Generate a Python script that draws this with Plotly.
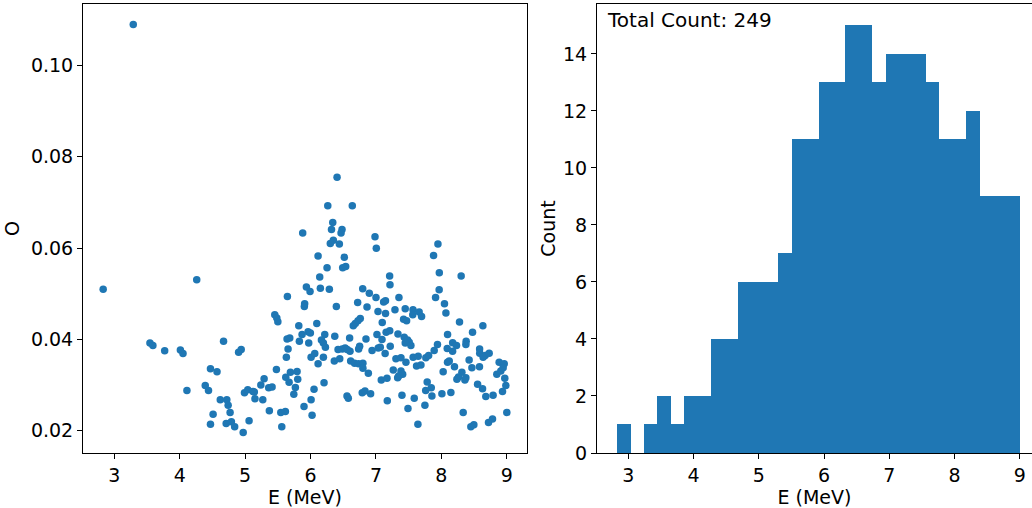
import numpy as np
import plotly.graph_objects as go
from plotly.subplots import make_subplots

# Event energies (MeV) and the matching O values, one entry per event
energy_mev = [
    2.83, 3.29, 3.545, 3.59, 3.77, 4.01, 4.05, 4.11, 4.26, 4.39, 4.44, 4.47, 4.47,
    4.51, 4.57, 4.62, 4.67, 4.71, 4.72, 4.74, 4.77, 4.79, 4.84, 4.90, 4.94, 4.97,
    4.99, 5.04, 5.06, 5.12, 5.14, 5.15, 5.24, 5.27, 5.29, 5.36, 5.37,
    6.405, 6.263, 6.638, 6.339, 6.32, 6.481, 6.466, 5.88, 6.348, 6.302, 6.44, 6.985,
    7.005, 6.115, 6.516, 6.252, 6.491, 6.537, 6.14, 7.209, 7.214, 5.936, 5.992, 6.15,
    6.287, 5.646, 6.797, 6.898, 7.0,
    7.947, 7.88, 7.968, 8.302, 7.966, 7.351, 7.911,
    7.117, 7.145, 5.905, 5.91, 6.394, 6.72, 6.863, 7.031, 7.146, 5.453, 5.484, 5.50,
    6.095, 5.82, 6.76, 6.725, 6.684, 6.653, 7.096, 5.962, 5.997, 5.87, 6.217, 6.37,
    7.015, 7.155, 5.641, 5.682, 5.829, 6.166, 6.196, 6.227, 5.972, 6.597, 6.847, 7.092,
    5.656, 6.42, 6.485, 6.528, 6.56, 6.603, 6.735, 6.75, 6.94, 7.035, 7.066, 7.14,
    5.63, 6.008, 6.064, 6.196, 6.363, 6.446, 6.613, 6.673, 6.734, 6.80, 6.115, 6.8,
    5.478, 5.692, 5.794, 5.621, 5.672, 5.804, 5.412, 5.768, 5.744, 6.053, 6.206, 6.008,
    5.9, 6.023, 5.545, 5.615, 5.56, 6.557, 6.577, 6.79, 6.832, 6.918, 6.883, 7.081,
    7.168, 7.173,
    8.047, 8.069, 7.29, 7.447, 7.566, 7.562, 7.66, 7.697, 7.422, 7.468, 8.277, 8.634,
    8.476, 7.21, 7.336, 7.432, 7.483, 7.508, 7.447, 7.534, 8.094, 7.94, 8.172, 8.231,
    8.378, 8.374, 7.218, 8.089, 8.171, 7.89, 8.584, 8.586, 8.669, 8.73, 7.305, 7.382,
    7.568, 7.645, 7.762, 7.805, 8.094, 8.12, 8.424, 7.458, 8.638, 8.883, 8.96,
    7.264, 7.382, 7.408, 7.347, 7.331, 7.62, 7.687, 7.783, 7.845, 7.760, 7.855, 8.027,
    8.2, 8.313, 8.262, 8.237, 8.374, 8.359, 8.466, 8.582, 8.553, 8.629, 8.679, 8.79,
    8.847, 8.908, 8.944, 8.969, 8.985, 8.934, 9.0, 7.397, 7.585, 7.489, 7.748, 8.008,
    8.145, 7.641, 8.333, 8.45, 8.496, 8.72, 8.781,
]

o_value = [
    0.051, 0.109, 0.0392, 0.0387, 0.0375, 0.0377, 0.0369, 0.0288, 0.0531, 0.0299, 0.0288, 0.0214, 0.0336,
    0.0236, 0.0329, 0.0268, 0.0396, 0.0216, 0.0268, 0.0256, 0.024, 0.022, 0.0209, 0.0372, 0.0378, 0.0196,
    0.0283, 0.029, 0.0222, 0.0286, 0.0285, 0.027, 0.030, 0.0268, 0.0314, 0.0294, 0.0244,
    0.0755, 0.0693, 0.0693, 0.0656, 0.0641, 0.0641, 0.0633, 0.0633, 0.0617, 0.061, 0.0609, 0.0625,
    0.060, 0.0583, 0.058, 0.0557, 0.0557, 0.056, 0.0537, 0.0539, 0.052, 0.0515, 0.0505, 0.0512,
    0.051, 0.0494, 0.0511, 0.0501, 0.0492,
    0.0609, 0.0584, 0.0546, 0.0539, 0.0509, 0.0492, 0.0492,
    0.0482, 0.0485, 0.0472, 0.0478, 0.0472, 0.0481, 0.0471, 0.0461, 0.0457, 0.0454, 0.0447, 0.0439,
    0.0435, 0.043, 0.0446, 0.0441, 0.0435, 0.043, 0.0437, 0.0417, 0.0414, 0.0411, 0.0411, 0.0407,
    0.0411, 0.0416, 0.0401, 0.0403, 0.0396, 0.0399, 0.0392, 0.0383, 0.0392, 0.0403, 0.0401, 0.04,
    0.0379, 0.0378, 0.0379, 0.0381, 0.0378, 0.0374, 0.0379, 0.0385, 0.0376, 0.0381, 0.0383, 0.0369,
    0.0361, 0.0361, 0.0369, 0.0361, 0.0353, 0.0358, 0.0353, 0.0348, 0.0347, 0.0348, 0.0347, 0.0337,
    0.0334, 0.0328, 0.033, 0.0317, 0.0306, 0.0313, 0.0296, 0.0295, 0.028, 0.0291, 0.0305, 0.0268,
    0.0253, 0.0234, 0.024, 0.0242, 0.0209, 0.0276, 0.0271, 0.0283, 0.0287, 0.0281, 0.0326, 0.0311,
    0.0315, 0.0266,
    0.0478, 0.0458, 0.0465, 0.0467, 0.0465, 0.0454, 0.046, 0.045, 0.0444, 0.0441, 0.0438, 0.043,
    0.0416, 0.0419, 0.0412, 0.0405, 0.0399, 0.0394, 0.0392, 0.0387, 0.0411, 0.0389, 0.0393, 0.0387,
    0.0396, 0.0389, 0.0385, 0.038, 0.0374, 0.0376, 0.0379, 0.037, 0.0365, 0.037, 0.0358, 0.036,
    0.0361, 0.0363, 0.036, 0.0365, 0.035, 0.0353, 0.0355, 0.035, 0.0361, 0.035, 0.0347,
    0.0333, 0.0331, 0.0324, 0.032, 0.0316, 0.0342, 0.0344, 0.0307, 0.0294, 0.0288, 0.0276, 0.0329,
    0.034, 0.0328, 0.0318, 0.0313, 0.0316, 0.0311, 0.0338, 0.034, 0.0302, 0.0292, 0.0275, 0.0278,
    0.0324, 0.0331, 0.0338, 0.0315, 0.0299, 0.0286, 0.024, 0.0278, 0.0271, 0.0249, 0.0256, 0.0281,
    0.0284, 0.0214, 0.024, 0.0209, 0.0213, 0.0218, 0.0226,
]

n_bins = 30
x_ticks = [3, 4, 5, 6, 7, 8, 9]
o_ticks = [0.02, 0.04, 0.06, 0.08, 0.10]
count_ticks = [0, 2, 4, 6, 8, 10, 12, 14]

BLUE = "#1f77b4"
FONT = "DejaVu Sans"
FS = 19

e = np.array(energy_mev)
o = np.array(o_value)
counts, edges = np.histogram(e, bins=n_bins)
centers = (edges[:-1] + edges[1:]) / 2
widths = np.diff(edges)


def padded(lo, hi, frac=0.05):
    span = hi - lo
    return lo - frac * span, hi + frac * span


W, H = 1032, 508
ml, mr, mt, mb = 83, 0, 4, 53
plot_w = W - ml - mr

fig = make_subplots(rows=1, cols=2)

fig.add_trace(
    go.Scatter(
        x=e, y=o, mode="markers",
        marker=dict(color=BLUE, size=7.5, line=dict(width=0)),
        showlegend=False,
    ),
    row=1, col=1,
)

fig.add_trace(
    go.Bar(
        x=centers, y=counts, width=widths,
        marker=dict(color=BLUE, line=dict(width=0)),
        showlegend=False,
    ),
    row=1, col=2,
)

# panel placement inside the plotting region
left_dom = [0, (527 - ml) / plot_w]
right_dom = [(597 - ml) / plot_w, 1.0]

x_lo, x_hi = padded(e.min(), e.max())
y_lo, y_hi = padded(o.min(), o.max())
h_lo, h_hi = padded(edges[0], edges[-1])
# the right panel runs past the page edge; keep its scale, show what fits
full_w = 1040 - 597
vis_w = W - 597
h_hi_vis = h_lo + (h_hi - h_lo) * vis_w / full_w

title_font = dict(family=FONT, size=FS, color="black")
axis_common = dict(
    showline=True, linecolor="black", linewidth=1,
    ticks="outside", ticklen=5, tickwidth=1, tickcolor="black",
    showgrid=False, zeroline=False,
    tickfont=dict(family=FONT, size=FS, color="black"),
)

fig.update_xaxes(
    **axis_common, mirror=True, domain=left_dom, range=[x_lo, x_hi],
    tickvals=x_ticks, ticktext=[str(t) for t in x_ticks],
    title=dict(text="E (MeV)", font=title_font, standoff=9),
    row=1, col=1,
)
fig.update_yaxes(
    **axis_common, mirror=True, range=[y_lo, y_hi],
    tickvals=o_ticks, ticktext=[f"{t:.2f}" for t in o_ticks],
    title=dict(text="O", font=title_font, standoff=6),
    row=1, col=1,
)
fig.update_xaxes(
    **axis_common, mirror=True, domain=right_dom, range=[h_lo, h_hi_vis],
    tickvals=x_ticks, ticktext=[str(t) for t in x_ticks],
    title=dict(text="E (MeV)", font=title_font, standoff=9),
    row=1, col=2,
)
fig.update_yaxes(
    **axis_common, mirror=False, range=[0, counts.max() * 1.05],
    tickvals=count_ticks, ticktext=[str(t) for t in count_ticks],
    title=dict(text="Count", font=title_font, standoff=2),
    row=1, col=2,
)

fig.add_annotation(
    text=f"Total Count: {len(e)}",
    xref="x2 domain", yref="y2 domain",
    x=8 / vis_w, y=1 - 16 / 451,
    xanchor="left", yanchor="middle", showarrow=False,
    font=dict(family=FONT, size=20, color="black"),
)

fig.update_layout(
    width=W, height=H,
    margin=dict(l=ml, r=mr, t=mt, b=mb),
    paper_bgcolor="white", plot_bgcolor="white",
    bargap=0,
)

fig.write_html("out.html")
